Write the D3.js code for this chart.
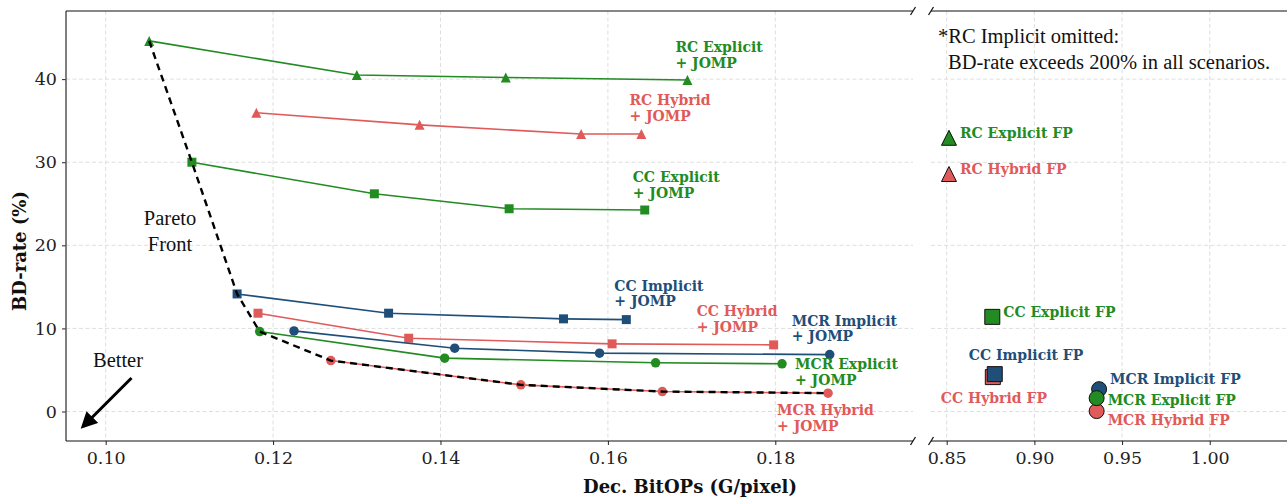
<!DOCTYPE html>
<html>
<head>
<meta charset="utf-8">
<script src="https://cdn.jsdelivr.net/npm/d3@7"></script>
<style>
  html, body { margin: 0; padding: 0; background: #fff; }
  svg { display: block; }
</style>
</head>
<body>
<svg id="chart" width="1287" height="498"></svg>
<script>
// ---------------- DATA ----------------
// JOMP operating points: [Dec. BitOPs (G/pixel), BD-rate (%)]
const rcExplicitJomp  = [[0.1052, 44.6], [0.1300, 40.5], [0.1478, 40.2], [0.1695, 39.9]];
const rcHybridJomp    = [[0.1180, 35.95], [0.1375, 34.5], [0.1568, 33.4], [0.1640, 33.4]];
const ccExplicitJomp  = [[0.1103, 30.0], [0.1321, 26.2], [0.1482, 24.4], [0.1644, 24.25]];
const ccImplicitJomp  = [[0.1157, 14.15], [0.1338, 11.83], [0.1547, 11.15], [0.1622, 11.06]];
const ccHybridJomp    = [[0.1182, 11.83], [0.1362, 8.82], [0.1605, 8.14], [0.1798, 8.02]];
const mcrImplicitJomp = [[0.1225, 9.70], [0.1417, 7.62], [0.1590, 7.02], [0.1865, 6.85]];
const mcrExplicitJomp = [[0.1184, 9.62], [0.1405, 6.42], [0.1657, 5.86], [0.1808, 5.74]];
const mcrHybridJomp   = [[0.1269, 6.13], [0.1496, 3.21], [0.1665, 2.40], [0.1863, 2.21]];

const paretoFront = [[0.1052, 44.6], [0.1103, 30.0], [0.1157, 14.15], [0.1184, 9.62],
                     [0.1269, 6.13], [0.1496, 3.21], [0.1665, 2.40], [0.1863, 2.21]];

// Full-precision (FP) reference points
const fpNames  = ["MCR Hybrid FP", "CC Hybrid FP", "RC Hybrid FP", "MCR Implicit FP", "CC Implicit FP",
                  "MCR Explicit FP", "CC Explicit FP", "RC Explicit FP"];
const fpBitops = [0.9355, 0.8763, 0.8513, 0.9369, 0.8774, 0.9355, 0.8760, 0.8513];
const fpBdrate = [0.05, 4.14, 28.58, 2.69, 4.50, 1.61, 11.39, 32.94];

const leftXTicks  = [0.10, 0.12, 0.14, 0.16, 0.18];
const rightXTicks = [0.85, 0.90, 0.95, 1.00];
const yTicks      = [0, 10, 20, 30, 40];

// ---------------- STYLE ----------------
const GREEN = "#228b22", RED = "#e05a5a", BLUE = "#1f4e79";
const svg = d3.select("#chart");

const yTop = 11, yBot = 441;
const xL = d3.scaleLinear().domain([0.09526, 0.19645]).range([66, 913]);
const xR = d3.scaleLinear().domain([0.84105, 1.04405]).range([931, 1287]);
const y  = d3.scaleLinear().domain([-3.55, 48.2]).range([yBot, yTop]);

// matplotlib-like triangle (bbox centred)
const mplTriangle = {
  draw(ctx, size) {
    const h = Math.sqrt(size);
    ctx.moveTo(0, -h / 2);
    ctx.lineTo(h / 2, h / 2);
    ctx.lineTo(-h / 2, h / 2);
    ctx.closePath();
  }
};
const shapes = {
  tri: (s) => d3.symbol(mplTriangle, s * s)(),
  sq:  (s) => d3.symbol(d3.symbolSquare, s * s)(),
  ci:  (s) => d3.symbol(d3.symbolCircle, Math.PI * s * s / 4)()
};

const seriesList = [
  { data: rcExplicitJomp,  color: GREEN, shape: "tri", label: ["RC Explicit", "+ JOMP"],  dx: -12, dy: -28 },
  { data: rcHybridJomp,    color: RED,   shape: "tri", label: ["RC Hybrid", "+ JOMP"],    dx: -12, dy: -29 },
  { data: ccExplicitJomp,  color: GREEN, shape: "sq",  label: ["CC Explicit", "+ JOMP"],  dx: -12, dy: -28 },
  { data: ccImplicitJomp,  color: BLUE,  shape: "sq",  label: ["CC Implicit", "+ JOMP"],  dx: -12, dy: -29 },
  { data: ccHybridJomp,    color: RED,   shape: "sq",  label: ["CC Hybrid", "+ JOMP"],    dx: -77, dy: -29 },
  { data: mcrImplicitJomp, color: BLUE,  shape: "ci",  label: ["MCR Implicit", "+ JOMP"], dx: -38, dy: -29 },
  { data: mcrExplicitJomp, color: GREEN, shape: "ci",  label: ["MCR Explicit", "+ JOMP"], dx: 13,  dy: 5 },
  { data: mcrHybridJomp,   color: RED,   shape: "ci",  label: ["MCR Hybrid", "+ JOMP"],   dx: -51, dy: 22 }
];

const fpStyle = {
  "MCR Hybrid FP":   { color: RED,   shape: "ci",  dx: 11,  dy: 14 },
  "CC Hybrid FP":    { color: RED,   shape: "sq",  dx: -52, dy: 26 },
  "RC Hybrid FP":    { color: RED,   shape: "tri", dx: 11,  dy: 0 },
  "MCR Implicit FP": { color: BLUE,  shape: "ci",  dx: 11,  dy: -5 },
  "CC Implicit FP":  { color: BLUE,  shape: "sq",  dx: -26, dy: -14 },
  "MCR Explicit FP": { color: GREEN, shape: "ci",  dx: 11,  dy: 7 },
  "CC Explicit FP":  { color: GREEN, shape: "sq",  dx: 11,  dy: 0 },
  "RC Explicit FP":  { color: GREEN, shape: "tri", dx: 11,  dy: 0 }
};

const tickFont = "'DejaVu Serif', serif";
const boldFont = "'DejaVu Serif', serif";
const textFont = "'Liberation Serif', 'Times New Roman', serif";
const LABEL_SIZE = 14;

// ---------------- GRID ----------------
const grid = svg.append("g").attr("stroke", "#dedede").attr("stroke-width", 1)
  .attr("stroke-dasharray", "4,2.5").attr("fill", "none");
[[xL, leftXTicks], [xR, rightXTicks]].forEach(([xs, ticks]) => {
  ticks.forEach(t => grid.append("line")
    .attr("x1", xs(t)).attr("x2", xs(t)).attr("y1", yTop).attr("y2", yBot));
  yTicks.forEach(t => grid.append("line")
    .attr("x1", xs.range()[0]).attr("x2", xs.range()[1]).attr("y1", y(t)).attr("y2", y(t)));
});

// ---------------- AXES ----------------
function styleAxis(g) {
  g.selectAll(".domain").remove();
  g.selectAll(".tick line").attr("stroke", "#222").attr("stroke-width", 1);
  g.selectAll(".tick text").attr("font-family", tickFont).attr("font-size", 17.5).attr("fill", "#222");
}
svg.append("g").attr("transform", `translate(0,${yBot})`)
  .call(d3.axisBottom(xL).tickValues(leftXTicks).tickFormat(d3.format(".2f")).tickSize(4).tickPadding(7))
  .call(styleAxis);
svg.append("g").attr("transform", `translate(0,${yBot})`)
  .call(d3.axisBottom(xR).tickValues(rightXTicks).tickFormat(d3.format(".2f")).tickSize(4).tickPadding(7))
  .call(styleAxis);
svg.append("g").attr("transform", `translate(66,0)`)
  .call(d3.axisLeft(y).tickValues(yTicks).tickFormat(d3.format("d")).tickSize(4).tickPadding(5))
  .call(styleAxis);

// spines
const sp = svg.append("g").attr("fill", "none");
sp.append("line").attr("x1", 66).attr("x2", 66).attr("y1", yTop).attr("y2", yBot)
  .attr("stroke", "#555").attr("stroke-width", 1.5);
[[xL.range()[0], xL.range()[1]], [xR.range()[0], xR.range()[1]]].forEach(([a, b]) => {
  [yTop, yBot].forEach(yy => sp.append("line").attr("x1", a).attr("x2", b)
    .attr("y1", yy).attr("y2", yy).attr("stroke", "#111").attr("stroke-width", 1.2));
});
// break marks
[xL.range()[1], xR.range()[0]].forEach(xx => {
  [yTop, yBot].forEach(yy => sp.append("line")
    .attr("x1", xx - 2.5).attr("y1", yy + 4).attr("x2", xx + 2.5).attr("y2", yy - 4)
    .attr("stroke", "#111").attr("stroke-width", 1.3));
});

// ---------------- SERIES ----------------
const line = d3.line().x(d => xL(d[0])).y(d => y(d[1]));
const plot = svg.append("g");
seriesList.forEach(s => {
  plot.append("path").attr("d", line(s.data)).attr("fill", "none")
    .attr("stroke", s.color).attr("stroke-width", 1.6);
  plot.selectAll(null).data(s.data).enter().append("path")
    .attr("d", shapes[s.shape](s.shape === "tri" ? 10 : (s.shape === "ci" ? 9.5 : 9)))
    .attr("transform", d => `translate(${xL(d[0])},${y(d[1])})`)
    .attr("fill", s.color);
});
// Pareto front
plot.append("path").attr("d", line(paretoFront)).attr("fill", "none")
  .attr("stroke", "#000").attr("stroke-width", 2.4).attr("stroke-dasharray", "7,5");

// series labels
seriesList.forEach(s => {
  const last = s.data[s.data.length - 1];
  const t = svg.append("text").attr("font-family", boldFont).attr("font-weight", "bold")
    .attr("font-size", LABEL_SIZE).attr("fill", s.color)
    .attr("x", xL(last[0]) + s.dx).attr("y", y(last[1]) + s.dy);
  s.label.forEach((ln, i) => t.append("tspan")
    .attr("x", xL(last[0]) + s.dx).attr("dy", i === 0 ? 0 : 15.8).text(ln));
});

// ---------------- FP POINTS ----------------
fpNames.forEach((n, i) => {
  const st = fpStyle[n];
  const px = xR(fpBitops[i]), py = y(fpBdrate[i]);
  svg.append("path").attr("d", shapes[st.shape](15))
    .attr("transform", `translate(${px},${py})`)
    .attr("fill", st.color).attr("stroke", "#111").attr("stroke-width", 1);
});
fpNames.forEach((n, i) => {
  const st = fpStyle[n];
  const px = xR(fpBitops[i]), py = y(fpBdrate[i]);
  svg.append("text").attr("x", px + st.dx).attr("y", py + st.dy)
    .attr("font-family", boldFont).attr("font-weight", "bold").attr("font-size", LABEL_SIZE)
    .attr("fill", st.color).text(n);
});

// ---------------- ANNOTATIONS ----------------
const note = svg.append("text").attr("font-family", textFont).attr("font-size", 20.5).attr("fill", "#111");
note.append("tspan").attr("x", 938).attr("y", 43).text("*RC Implicit omitted:");
note.append("tspan").attr("x", 948).attr("y", 68.5).text("BD-rate exceeds 200% in all scenarios.");

const pf = svg.append("text").attr("font-family", textFont).attr("font-size", 20.5)
  .attr("fill", "#111").attr("text-anchor", "middle");
pf.append("tspan").attr("x", 170).attr("y", 225).text("Pareto");
pf.append("tspan").attr("x", 170).attr("y", 251).text("Front");

svg.append("text").attr("font-family", textFont).attr("font-size", 20.5).attr("fill", "#111")
  .attr("text-anchor", "middle").attr("x", 118).attr("y", 367).text("Better");

// Better arrow
const defs = svg.append("defs");
defs.append("marker").attr("id", "ah").attr("viewBox", "0 0 10 10").attr("refX", 8).attr("refY", 5)
  .attr("markerWidth", 5.5).attr("markerHeight", 5.5).attr("orient", "auto")
  .attr("markerUnits", "strokeWidth")
  .append("path").attr("d", "M0,0 L10,5 L0,10 z").attr("fill", "#000");
svg.append("line").attr("x1", 131.5).attr("y1", 378).attr("x2", 83).attr("y2", 426.5)
  .attr("stroke", "#000").attr("stroke-width", 3).attr("marker-end", "url(#ah)");

// axis titles
svg.append("text").attr("font-family", boldFont).attr("font-weight", "bold").attr("font-size", 18)
  .attr("fill", "#111").attr("text-anchor", "middle").attr("x", 690).attr("y", 493)
  .text("Dec. BitOPs (G/pixel)");
svg.append("text").attr("font-family", boldFont).attr("font-weight", "bold").attr("font-size", 18)
  .attr("fill", "#111").attr("text-anchor", "middle")
  .attr("transform", "translate(26,251) rotate(-90)").text("BD-rate (%)");
</script>
</body>
</html>
